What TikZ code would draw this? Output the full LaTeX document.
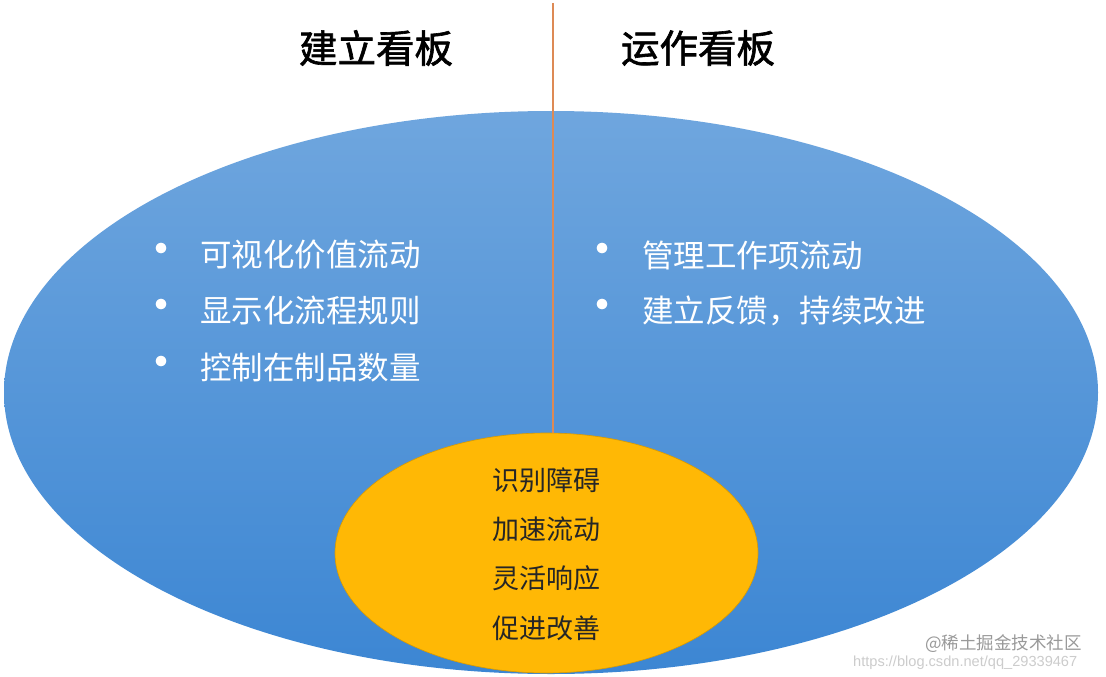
\documentclass[tikz,border=0pt]{standalone}
\usepackage{fontspec}
\setmainfont{Noto Sans CJK SC}
\newfontfamily\titlefont[FakeBold=1.6]{Noto Sans CJK SC}
\newfontfamily\wmfont{Liberation Sans}
\usetikzlibrary{shapes.geometric}
\definecolor{bluetop}{HTML}{6FA6DE}
\definecolor{bluebot}{HTML}{3C86D3}
\definecolor{orangefill}{HTML}{FFB805}
\definecolor{orangeedge}{HTML}{D99A00}
\definecolor{divider}{HTML}{DD8A55}
\tikzset{
  bigoval/.style={ellipse, inner sep=0pt, minimum width=1094pt, minimum height=563pt,
    top color=bluetop, bottom color=bluebot, draw=none},
  coreoval/.style={ellipse, inner sep=0pt, minimum width=423pt, minimum height=240pt,
    fill=orangefill, draw=orangeedge, line width=0.6pt},
  title/.style={font=\titlefont\fontsize{38.5}{40}\selectfont, text=black, inner sep=0pt},
  item/.style={font=\fontsize{31.5}{34}\selectfont, text=white, inner sep=0pt, anchor=west},
  dot/.style={font=\fontsize{50}{50}\selectfont, text=white, inner sep=0pt},
  coreitem/.style={font=\fontsize{27}{30}\selectfont, text=black!85, inner sep=0pt},
  mark1/.style={font=\fontsize{17.5}{19}\selectfont, text=black!40, inner sep=0pt, anchor=west},
  mark2/.style={font=\wmfont\fontsize{14.6}{16}\selectfont, text=black!20, inner sep=0pt, anchor=west},
}
\begin{document}
\begin{tikzpicture}[x=1pt,y=-1pt]
\useasboundingbox (0,0) rectangle (1106,677);
\fill[white] (0,0) rectangle (1106,677);

\node[bigoval] (blue) at (551,392.5) {};

\coordinate (linetop) at (553,3);
\node[coreoval] (core) at (546.5,553) {};
\draw[divider, line width=2pt] (linetop) -- (core.north -| linetop);

\node[title] (t1) at (376,48) {建立看板};
\node[title] (t2) at (698,48) {运作看板};

\node[dot] (b1) at (161,255) {•};
\node[dot] (b2) at (161,311) {•};
\node[dot] (b3) at (161,368) {•};
\node[item] (l1) at (200,255) {可视化价值流动};
\node[item] (l2) at (200,311) {显示化流程规则};
\node[item] (l3) at (200,368) {控制在制品数量};

\node[dot] (b4) at (602,255) {•};
\node[dot] (b5) at (602,311) {•};
\node[item] (r1) at (642,255) {管理工作项流动};
\node[item] (r2) at (642,311) {建立反馈，持续改进};

\node[coreitem] (c1) at (546,480) {识别障碍};
\node[coreitem] (c2) at (546,529) {加速流动};
\node[coreitem] (c3) at (546,578) {灵活响应};
\node[coreitem] (c4) at (546,628) {促进改善};

\node[mark2] (w2) at (853,663) {https://blog.csdn.net/qq\_29339467};
\node[mark1] (w1) at (925,644) {@稀土掘金技术社区};
\end{tikzpicture}
\end{document}
